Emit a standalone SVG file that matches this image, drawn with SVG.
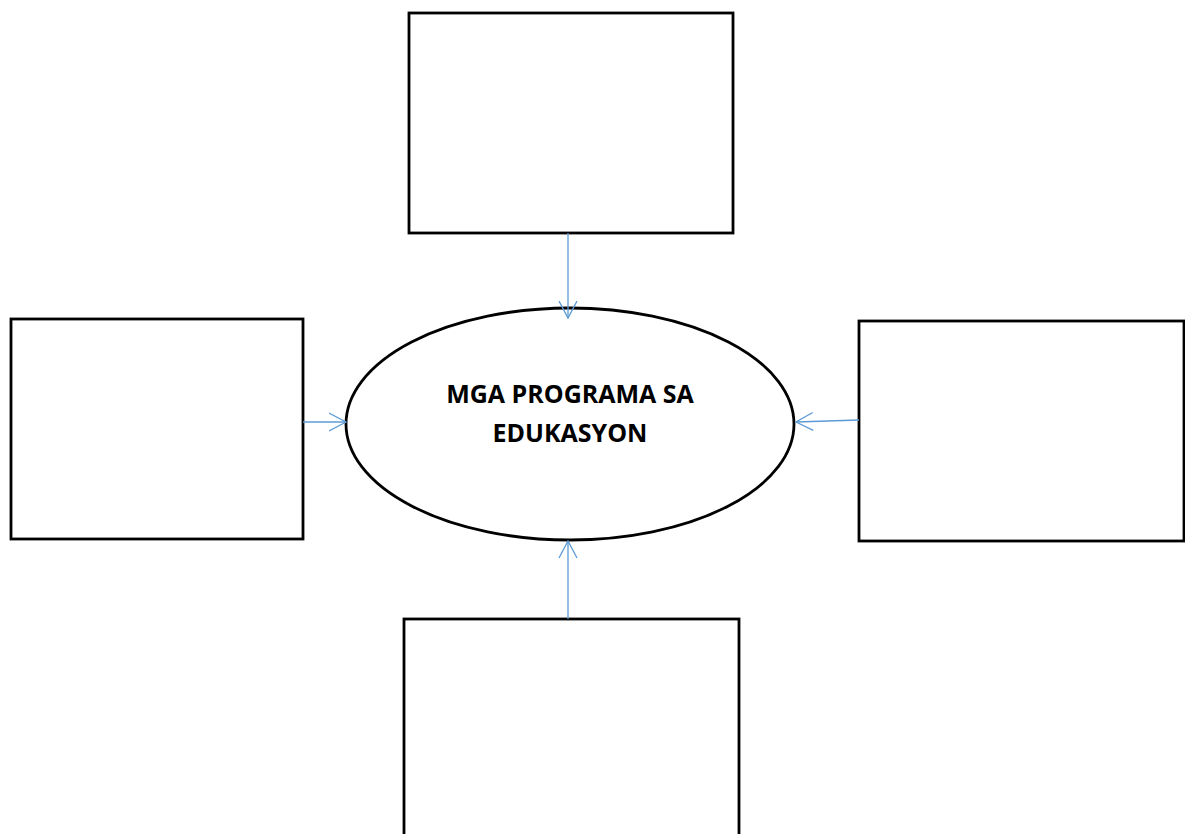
<svg xmlns="http://www.w3.org/2000/svg" width="1185" height="834" viewBox="0 0 1185 834">
<style>
.box{fill:#fff;stroke:#000;stroke-width:2.8}
.conn{stroke:#5b9bd5;stroke-width:1.3;fill:none}
.lbl{font-family:"Open Sans","Liberation Sans",sans-serif;font-weight:bold;font-size:25px;fill:#000;text-anchor:middle}
</style>
<defs>
<marker id="arr" viewBox="0 0 19 20" refX="17.5" refY="10" markerWidth="19" markerHeight="20" markerUnits="userSpaceOnUse" orient="auto">
<path d="M0.5,1 L17.5,10 L0.5,19" fill="none" stroke="#5b9bd5" stroke-width="1.3"/>
</marker>
</defs>
<rect width="1185" height="834" fill="#fff"/>
<g id="top-box"><rect class="box" x="409" y="13" width="324" height="220"/></g>
<g id="left-box"><rect class="box" x="11" y="319" width="292" height="220"/></g>
<g id="right-box"><rect class="box" x="859" y="321" width="325" height="220"/></g>
<g id="bottom-box"><rect class="box" x="404" y="619" width="335" height="230"/></g>
<g id="center">
<ellipse class="box" cx="570" cy="424" rx="224" ry="116"/>
<text class="lbl" x="570" y="403">MGA PROGRAMA SA</text>
<text class="lbl" x="570" y="442">EDUKASYON</text>
</g>
<g id="connectors">
<line class="conn" x1="568" y1="233" x2="568" y2="318" marker-end="url(#arr)"/>
<line class="conn" x1="303" y1="422" x2="346" y2="422" marker-end="url(#arr)"/>
<line class="conn" x1="859" y1="420" x2="796" y2="422" marker-end="url(#arr)"/>
<line class="conn" x1="568" y1="619" x2="568" y2="541" marker-end="url(#arr)"/>
</g>
</svg>
